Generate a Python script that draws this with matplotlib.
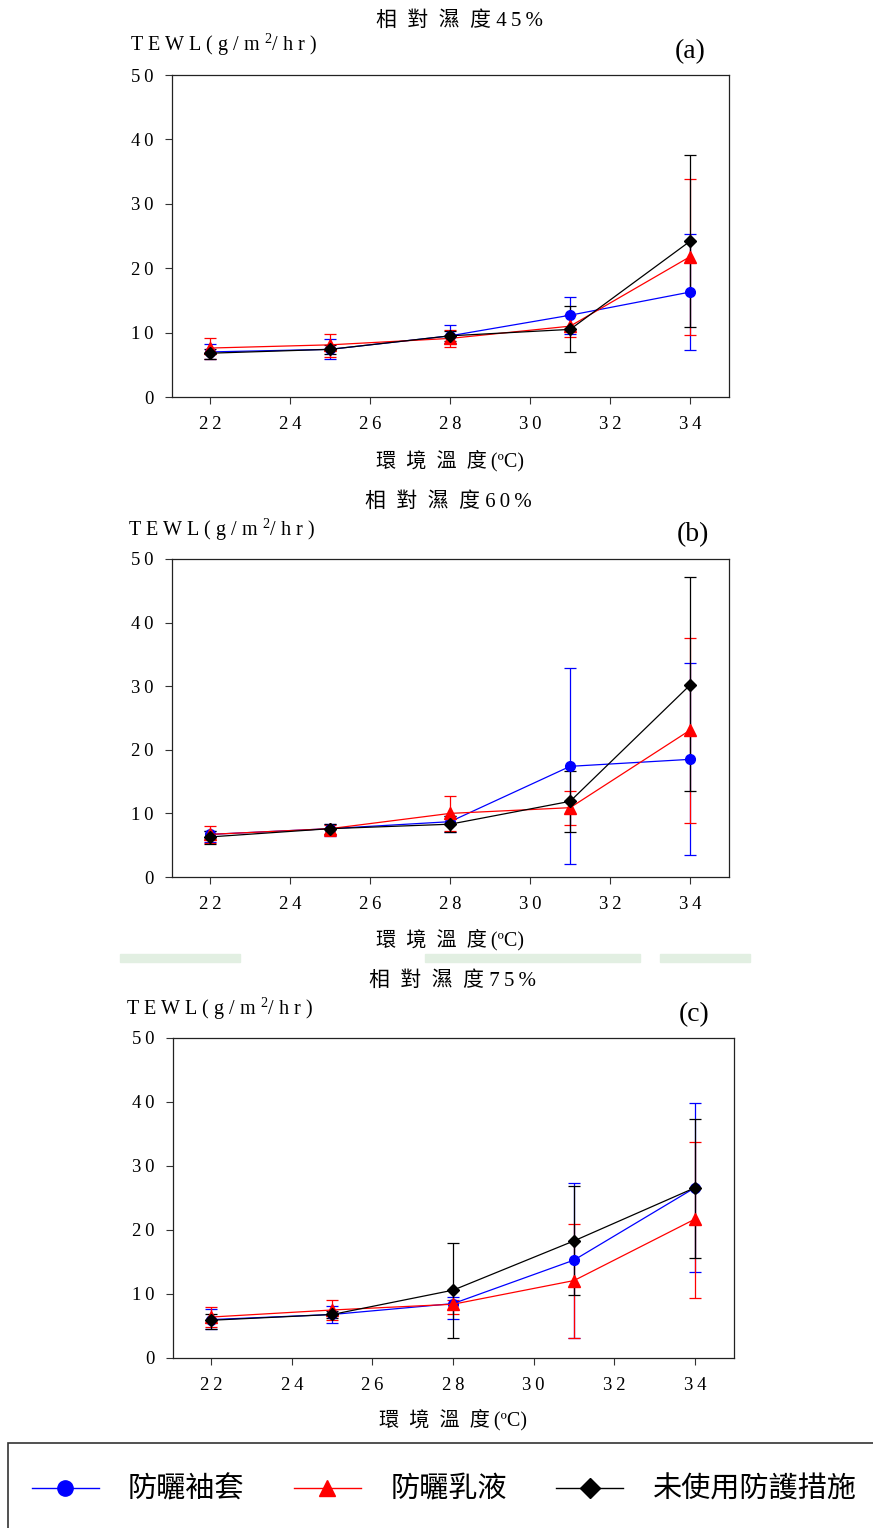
import matplotlib
matplotlib.use('Agg')
import matplotlib.pyplot as plt
from matplotlib.lines import Line2D
from matplotlib.patches import Rectangle

plt.rcParams['mathtext.fontset'] = 'custom'
plt.rcParams['mathtext.rm'] = 'Liberation Serif'
plt.rcParams['mathtext.it'] = 'Liberation Serif'

# temperatures (x)
temps = [22, 25, 28, 31, 34]

# (a) RH 45%
a_sleeve = [7.0, 7.4, 9.5, 12.7, 16.3]
a_sleeve_lo = [5.9, 5.9, 8.4, 9.8, 7.3]
a_sleeve_hi = [8.2, 9.0, 11.2, 15.5, 25.3]
a_lotion = [7.6, 8.1, 9.1, 11.0, 21.8]
a_lotion_lo = [5.9, 6.2, 7.7, 9.3, 9.6]
a_lotion_hi = [9.2, 9.8, 10.4, 12.8, 33.8]
a_none = [6.8, 7.4, 9.5, 10.5, 24.2]
a_none_lo = [5.9, 6.6, 8.7, 7.0, 10.9]
a_none_hi = [7.4, 8.1, 10.3, 14.1, 37.5]

# (b) RH 60%
b_sleeve = [6.7, 7.6, 8.7, 17.4, 18.5]
b_sleeve_lo = [5.5, 6.4, 7.0, 2.0, 3.4]
b_sleeve_hi = [7.3, 8.4, 9.6, 32.8, 33.7]
b_lotion = [6.7, 7.6, 10.0, 10.9, 23.1]
b_lotion_lo = [5.4, 6.5, 7.2, 8.1, 8.5]
b_lotion_hi = [8.0, 8.2, 12.8, 13.6, 37.5]
b_none = [6.3, 7.6, 8.3, 11.9, 30.2]
b_none_lo = [5.2, 6.7, 7.0, 7.0, 13.5]
b_none_hi = [7.3, 8.3, 9.6, 16.7, 47.1]

# (c) RH 75%
c_sleeve = [6.0, 6.8, 8.5, 15.3, 26.6]
c_sleeve_lo = [4.6, 5.5, 6.1, 3.2, 13.4]
c_sleeve_hi = [7.6, 8.1, 9.6, 27.4, 39.8]
c_lotion = [6.4, 7.5, 8.4, 12.1, 21.7]
c_lotion_lo = [4.9, 5.9, 6.9, 3.1, 9.3]
c_lotion_hi = [8.0, 9.0, 9.1, 20.9, 33.8]
c_none = [5.9, 6.8, 10.6, 18.3, 26.6]
c_none_lo = [4.6, 6.2, 3.2, 9.8, 15.7]
c_none_hi = [6.8, 7.4, 17.9, 26.9, 37.3]

panel_titles = ['相對濕度', '相對濕度', '相對濕度']
panel_rh = ['45%', '60%', '75%']
panel_tags = ['(a)', '(b)', '(c)']
series_names = ['防曬袖套', '防曬乳液', '未使用防護措施']
xticks = [22, 24, 26, 28, 30, 32, 34]
yticks = [0, 10, 20, 30, 40, 50]

W, H = 873, 1528
SERIF = ['Liberation Serif', 'Noto Sans CJK TC', 'DejaVu Sans']
CJK = ['Noto Sans CJK TC', 'DejaVu Sans']


def spaced(s, sep='\u2009'):
    return sep.join(s)


def box(l, t, r, b):
    return [l / W, 1 - b / H, (r - l) / W, (b - t) / H]


def ftext(x, y, s, **kw):
    fig.text(x / W, 1 - y / H, s, **kw)


fig = plt.figure(figsize=(W / 100, H / 100), dpi=100)

panels = [
    ((172, 75, 729, 397), (a_sleeve, a_sleeve_lo, a_sleeve_hi), (a_lotion, a_lotion_lo, a_lotion_hi), (a_none, a_none_lo, a_none_hi)),
    ((172, 559, 729, 877), (b_sleeve, b_sleeve_lo, b_sleeve_hi), (b_lotion, b_lotion_lo, b_lotion_hi), (b_none, b_none_lo, b_none_hi)),
    ((173, 1038, 734, 1358), (c_sleeve, c_sleeve_lo, c_sleeve_hi), (c_lotion, c_lotion_lo, c_lotion_hi), (c_none, c_none_lo, c_none_hi)),
]
# text anchors: title, ylabel, tag, xlabel
text_pos = [
    ((460, 21), (130, 45), (690, 52), (450, 461)),
    ((448, 502), (128, 530), (693, 535), (450, 940)),
    ((452, 981), (126, 1009), (694, 1015), (453, 1420)),
]
colors = ['#0000ff', '#ff0000', '#000000']
markers = ['o', '^', 'D']
msizes = [7, 8, 6.5]

for i, (rect, s1, s2, s3) in enumerate(panels):
    ax = fig.add_axes(box(*rect))
    for (vals, lo, hi), c, m, ms in zip((s1, s2, s3), colors, markers, msizes):
        err = [[v - l for v, l in zip(vals, lo)], [h - v for v, h in zip(vals, hi)]]
        ax.errorbar(temps, vals, yerr=err, color=c, ecolor=c, marker=m, markersize=ms,
                    lw=0.9, elinewidth=0.9, capsize=4, capthick=0.9)
    ax.set_xlim(21.05, 34.97)
    ax.set_ylim(0, 50)
    ax.set_xticks(xticks)
    ax.set_yticks(yticks)
    ax.set_xticklabels([spaced(str(t)) for t in xticks], family=SERIF, fontsize=13.5)
    ax.set_yticklabels([spaced(str(t)) for t in yticks], family=SERIF, fontsize=13.5)
    ax.tick_params(direction='out', length=5, width=0.8, color='#333333')
    ax.tick_params(axis='x', pad=9)
    ax.tick_params(axis='y', pad=8)
    for sp in ax.spines.values():
        sp.set_linewidth(0.9)
        sp.set_color('#222222')

    (tx, ty), (yx, yy), (gx, gy), (xx, xy) = text_pos[i]
    title = spaced(panel_titles[i], '\u2002') + ' ' + spaced(panel_rh[i])
    ftext(tx, ty, title, family=SERIF, fontsize=15, ha='center', va='center')
    ftext(yx, yy, spaced('TEWL', ' ') + ' ' + spaced('(g/m', ' ') + r' $^{2}$' + spaced('/hr)', ' '),
          family=SERIF, fontsize=14.5, ha='left', va='center')
    ftext(gx, gy, panel_tags[i], family=SERIF, fontsize=20, ha='center', va='center')
    ftext(xx, xy, spaced('環境溫度', '\u2002') + '\u2009(ºC)', family=SERIF, fontsize=14.5,
          ha='center', va='center')

# faint watermark patches from the scanned page
for (l, r) in [(120, 240), (425, 640), (660, 750)]:
    fig.patches.append(Rectangle((l / W, 1 - 962 / H), (r - l) / W, 8 / H,
                                 transform=fig.transFigure, color='#e2efe2', zorder=0))

# legend box
fig.patches.append(Rectangle((8 / W, -0.02), 1.0, 1 - 1443 / H + 0.02, transform=fig.transFigure,
                             fill=False, edgecolor='#333333', lw=1.2))
handles = [Line2D([], [], color=c, marker=m, markersize=ms + 4, lw=1) for c, m, ms in zip(colors, markers, msizes)]
fig.legend(handles, series_names, loc='center', bbox_to_anchor=(444 / W, 1 - 1490 / H),
           ncol=3, frameon=False, prop={'family': CJK, 'size': 21},
           handlelength=2.3, handletextpad=1.0, columnspacing=1.7)

plt.savefig('out.png', dpi=100)
